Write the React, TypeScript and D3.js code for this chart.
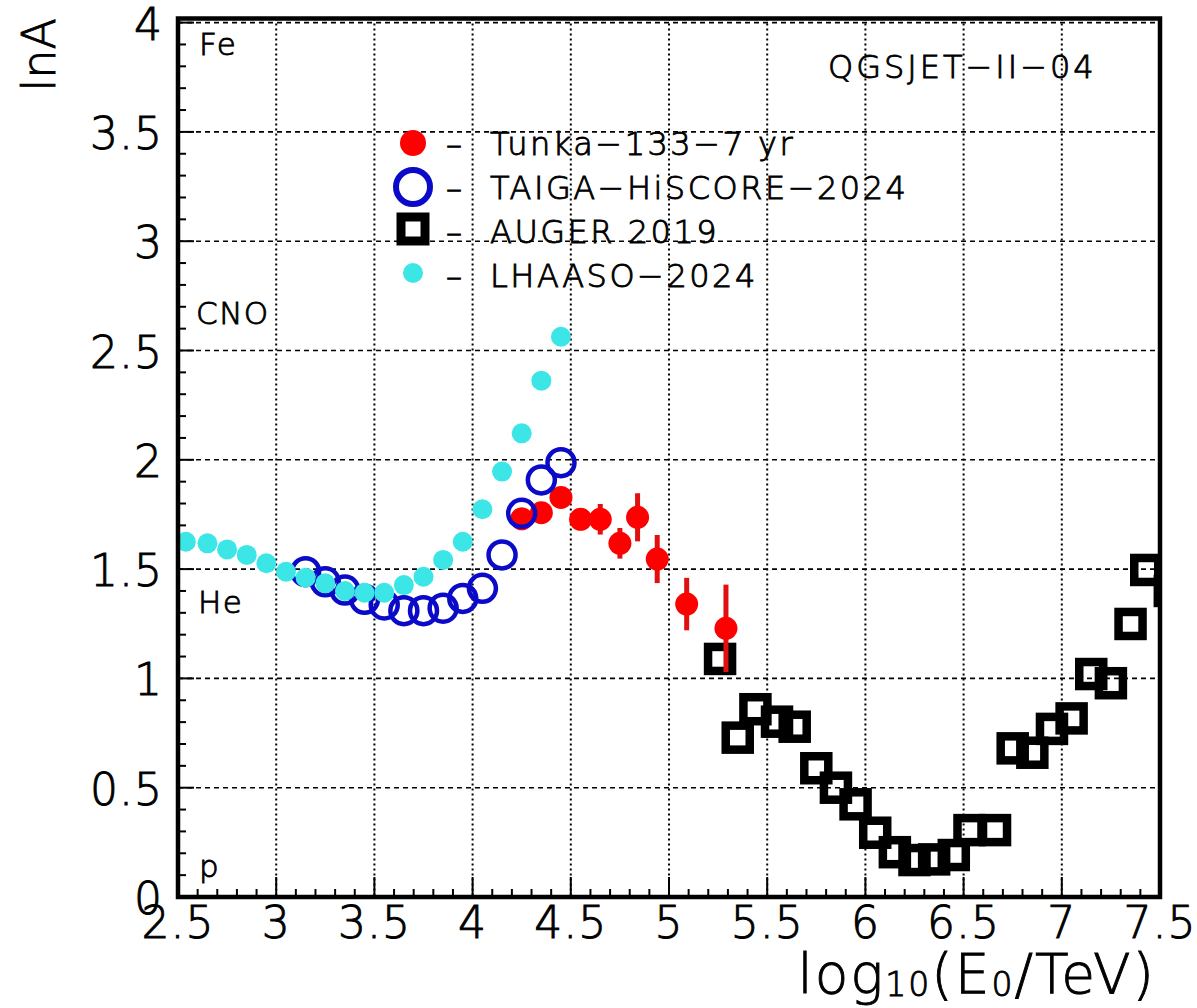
import React from "react";
import * as d3 from "d3";

const xTickLabels = ["2.5", "3", "3.5", "4", "4.5", "5", "5.5", "6", "6.5", "7", "7.5"];
const yTickLabels = ["0", "0.5", "1", "1.5", "2", "2.5", "3", "3.5", "4"];

// LHAASO-2024
const lhaasoX = [2.54, 2.65, 2.75, 2.85, 2.95, 3.05, 3.15, 3.25, 3.35, 3.45, 3.55, 3.65, 3.75, 3.85, 3.95, 4.05, 4.15, 4.25, 4.35, 4.45];
const lhaasoY = [1.625, 1.618, 1.59, 1.565, 1.527, 1.488, 1.461, 1.435, 1.4, 1.392, 1.392, 1.427, 1.465, 1.542, 1.625, 1.774, 1.946, 2.121, 2.362, 2.563];

// TAIGA-HiSCORE-2024
const taigaX = [3.15, 3.25, 3.35, 3.45, 3.55, 3.65, 3.75, 3.85, 3.95, 4.05, 4.15, 4.25, 4.35, 4.45];
const taigaY = [1.488, 1.442, 1.404, 1.362, 1.336, 1.31, 1.31, 1.321, 1.366, 1.412, 1.565, 1.755, 1.908, 1.987];

// Tunka-133-7 yr
const tunkaX = [4.25, 4.35, 4.45, 4.55, 4.65, 4.75, 4.84, 4.94, 5.09, 5.29];
const tunkaY = [1.73, 1.758, 1.828, 1.728, 1.728, 1.618, 1.737, 1.546, 1.34, 1.229];
const tunkaErr = [0.03, 0.03, 0.03, 0.03, 0.07, 0.07, 0.11, 0.11, 0.12, 0.2];

// AUGER 2019
const augerX = [5.26, 5.35, 5.44, 5.55, 5.64, 5.75, 5.85, 5.95, 6.05, 6.15, 6.25, 6.35, 6.45, 6.53, 6.66, 6.75, 6.85, 6.95, 7.05, 7.15, 7.25, 7.35, 7.43, 7.55];
const augerY = [1.089, 0.729, 0.859, 0.802, 0.779, 0.589, 0.5, 0.424, 0.294, 0.205, 0.169, 0.172, 0.192, 0.306, 0.306, 0.68, 0.66, 0.769, 0.817, 1.02, 0.978, 1.249, 1.496, 1.4];

const legendLabels = ["Tunka\u2212133\u22127 yr", "TAIGA\u2212HiSCORE\u22122024", "AUGER 2019", "LHAASO\u22122024"];
const compLabels = ["Fe", "CNO", "He", "p"];

const FONT = "'DejaVu Sans', 'Liberation Sans', sans-serif";

export default function App() {
  const W = 1197, H = 1008;
  const x0 = 178, x1 = 1160, yBot = 897, yTop4 = 22.6, frameTop = 18.5;
  const x = d3.scaleLinear().domain([2.5, 7.5]).range([x0, x1]);
  const y = d3.scaleLinear().domain([0, 4]).range([yBot, yTop4]);

  const xMajor = xTickLabels.map(Number);
  const yMajor = yTickLabels.map(Number);
  const xMinor = x.ticks(50).filter((v) => !xMajor.some((m) => Math.abs(m - v) < 1e-6));
  const yMinor = d3.range(0, 40).map((i) => i / 10).filter((v) => !yMajor.some((m) => Math.abs(m - v) < 1e-6));

  const red = "#ff0000";
  const redBar = "#e01010";
  const blue = "#0a0ac8";
  const cyan = "#3de6e6";

  const sq = 24;
  const txt = { stroke: "#000", strokeWidth: 0.9 } as const;

  return (
    <svg width={W} height={H} style={{ position: "absolute", left: 0, top: 0, background: "#fff" }} fontFamily={FONT} fontWeight={300}>
      <defs>
        <clipPath id="plot">
          <rect x={x0} y={frameTop} width={x1 - x0} height={yBot - frameTop} />
        </clipPath>
      </defs>
      <rect x={0} y={0} width={W} height={H} fill="#fff" />

      {/* grid */}
      {xMajor.slice(1, -1).map((v) => (
        <line key={"gx" + v} x1={x(v)} x2={x(v)} y1={frameTop} y2={yBot} stroke="#000" strokeWidth={2} strokeDasharray="2 3" />
      ))}
      {yMajor.slice(1).map((v) => (
        <line key={"gy" + v} x1={x0} x2={x1} y1={y(v)} y2={y(v)} stroke="#000" strokeWidth={1.6} strokeDasharray="5 4" />
      ))}

      {/* ticks */}
      {xMinor.map((v) => (
        <line key={"xm" + v} x1={x(v)} x2={x(v)} y1={yBot} y2={yBot - 8} stroke="#000" strokeWidth={2} />
      ))}
      {xMajor.map((v) => (
        <line key={"xM" + v} x1={x(v)} x2={x(v)} y1={yBot} y2={yBot - 20} stroke="#000" strokeWidth={2} />
      ))}
      {yMinor.map((v) => (
        <line key={"ym" + v} x1={x0} x2={x0 + 8} y1={y(v)} y2={y(v)} stroke="#000" strokeWidth={2} />
      ))}
      {yMajor.map((v) => (
        <line key={"yM" + v} x1={x0} x2={x0 + 16} y1={y(v)} y2={y(v)} stroke="#000" strokeWidth={2} />
      ))}

      {/* data */}
      <g clipPath="url(#plot)">
        {augerX.map((v, i) => (
          <rect key={"a" + i} x={x(v) - sq / 2} y={y(augerY[i]) - sq / 2} width={sq} height={sq} fill="none" stroke="#000" strokeWidth={8.5} />
        ))}
        {tunkaX.map((v, i) => (
          <line key={"te" + i} x1={x(v)} x2={x(v)} y1={y(tunkaY[i] - tunkaErr[i])} y2={y(tunkaY[i] + tunkaErr[i])} stroke={redBar} strokeWidth={5} />
        ))}
        {tunkaX.map((v, i) => (
          <circle key={"t" + i} cx={x(v)} cy={y(tunkaY[i])} r={11.5} fill={red} />
        ))}
        {taigaX.map((v, i) => (
          <circle key={"h" + i} cx={x(v)} cy={y(taigaY[i])} r={13.5} fill="none" stroke={blue} strokeWidth={4.5} />
        ))}
        {lhaasoX.map((v, i) => (
          <circle key={"l" + i} cx={x(v)} cy={y(lhaasoY[i])} r={10} fill={cyan} />
        ))}
      </g>

      {/* frame */}
      <rect x={x0} y={frameTop} width={x1 - x0} height={yBot - frameTop} fill="none" stroke="#000" strokeWidth={4.5} />

      {/* tick labels */}
      {xTickLabels.map((t, i) => (
        <text key={"xl" + t} x={x(xMajor[i])} y={938} fontSize={44} textAnchor="middle" letterSpacing={1} {...txt}>
          {t}
        </text>
      ))}
      {yTickLabels.map((t, i) => (
        <text key={"yl" + t} x={163} y={y(yMajor[i]) + 17} fontSize={44} textAnchor="end" letterSpacing={1} {...txt}>
          {t}
        </text>
      ))}

      {/* axis titles */}
      <text transform="translate(55,18) rotate(-90)" fontSize={46} textAnchor="end" {...txt}>
        lnA
      </text>
      <text x={1156} y={993} fontSize={55} textAnchor="end" letterSpacing={2} {...txt}>
        log<tspan fontSize={33} dy={3}>10</tspan>
        <tspan dy={-3}>(E</tspan>
        <tspan fontSize={33} dy={3}>0</tspan>
        <tspan dy={-3}>/TeV)</tspan>
      </text>

      {/* composition labels */}
      <text x={199} y={55} fontSize={31} letterSpacing={1.5} {...txt}>{compLabels[0]}</text>
      <text x={196} y={324} fontSize={31} letterSpacing={1.5} {...txt}>{compLabels[1]}</text>
      <text x={198} y={613} fontSize={31} letterSpacing={1.5} {...txt}>{compLabels[2]}</text>
      <text x={199} y={877} fontSize={31} letterSpacing={1.5} {...txt}>{compLabels[3]}</text>

      <text x={828} y={78} fontSize={32} letterSpacing={3} {...txt}>QGSJET{"\u2212"}II{"\u2212"}04</text>

      {/* legend */}
      <circle cx={413} cy={143} r={13} fill={red} />
      <circle cx={413} cy={187} r={17} fill="none" stroke={blue} strokeWidth={6} />
      <rect x={413 - 12} y={229 - 12} width={24} height={24} fill="none" stroke="#000" strokeWidth={9} />
      <circle cx={413} cy={273} r={10} fill={cyan} />
      {legendLabels.map((l, i) => (
        <g key={"lg" + i}>
          <text x={446} y={155 + i * 44} fontSize={32} letterSpacing={2.5} {...txt}>{"\u2013"}</text>
          <text x={490} y={155 + i * 44} fontSize={32} letterSpacing={2.5} {...txt}>{l}</text>
        </g>
      ))}
    </svg>
  );
}
